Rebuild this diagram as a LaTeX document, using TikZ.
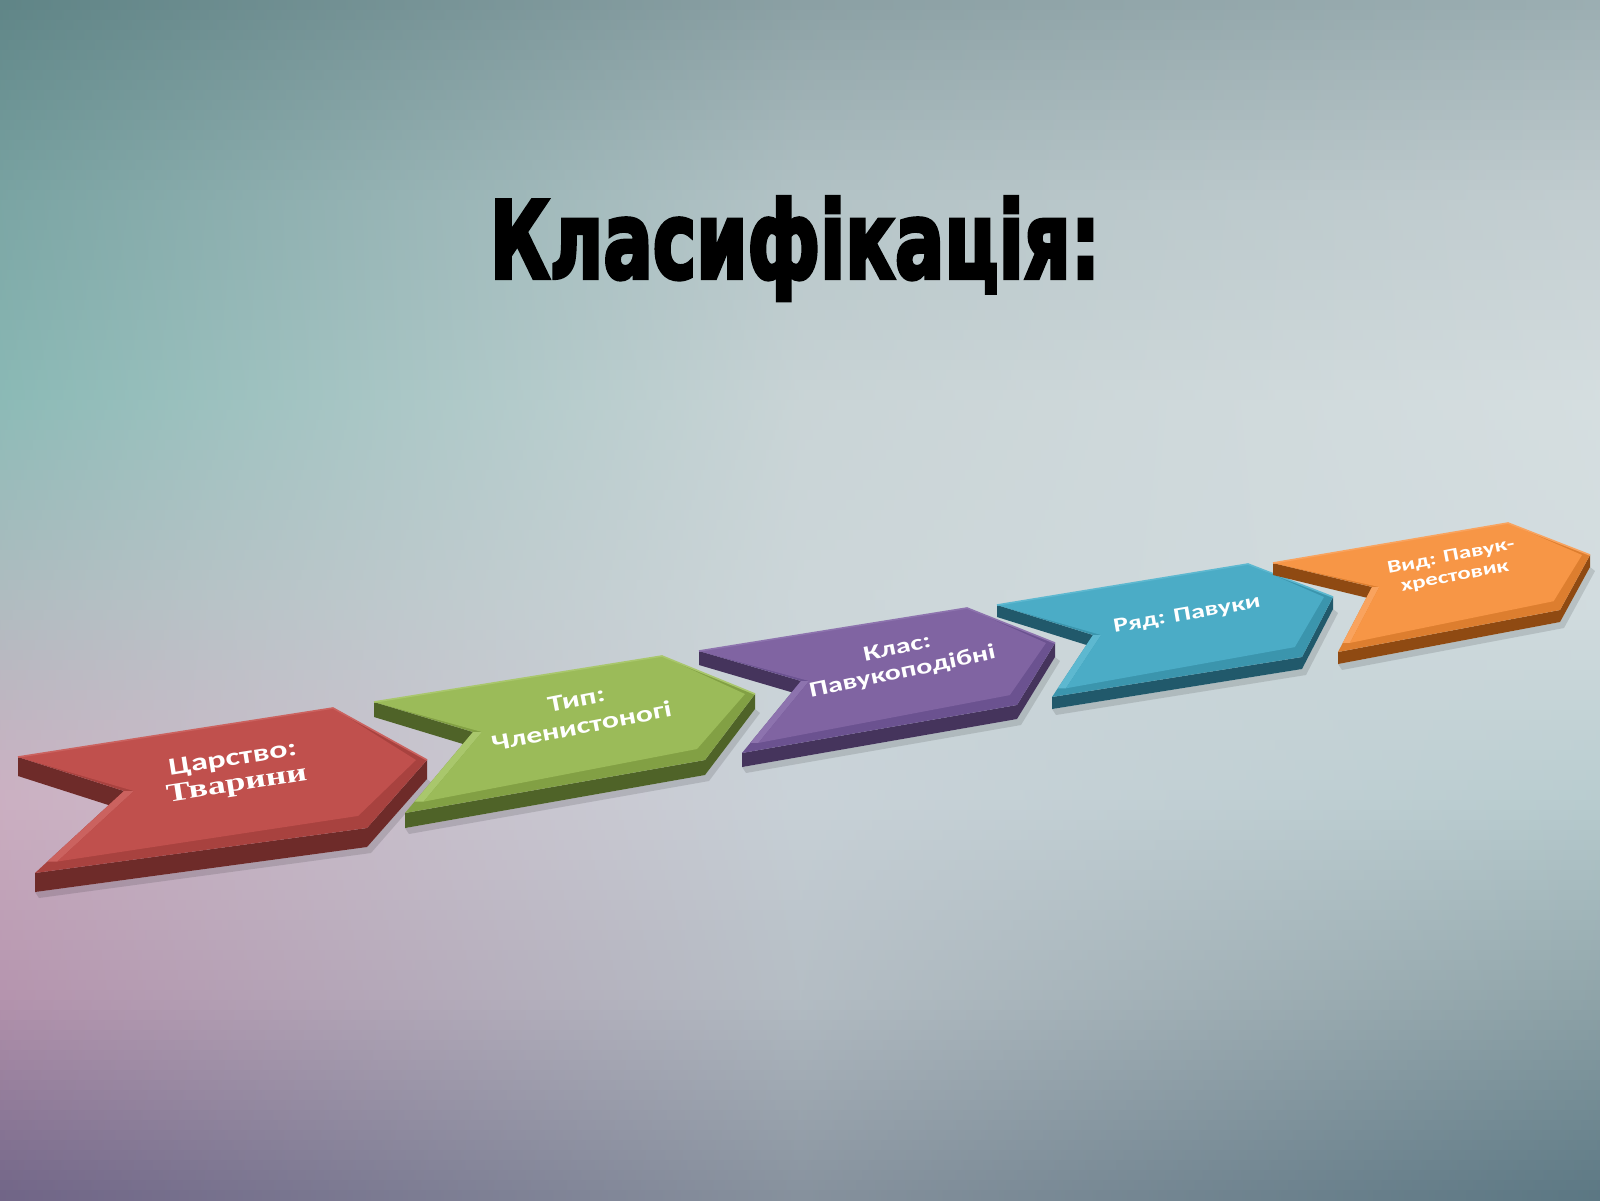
\documentclass[tikz,border=0pt]{standalone}
\usepackage{fontspec}
\usepackage{graphicx}
\setmainfont{Carlito}
\newfontfamily\titlefont[FakeBold=4]{DejaVu Sans}
\newfontfamily\serifb{Liberation Serif}
\usetikzlibrary{calc}

% background colour grid: rows y = 0,200,...,1200 ; columns x = 0,400,...,1600
\definecolor{gr00}{HTML}{5F8486}\definecolor{gr01}{HTML}{7D9597}\definecolor{gr02}{HTML}{8A9FA3}\definecolor{gr03}{HTML}{93A7AB}\definecolor{gr04}{HTML}{9AADB1}
\definecolor{gr10}{HTML}{7AA4A3}\definecolor{gr11}{HTML}{9FB6B8}\definecolor{gr12}{HTML}{B3C3C6}\definecolor{gr13}{HTML}{BFCACD}\definecolor{gr14}{HTML}{C2CDD0}
\definecolor{gr20}{HTML}{8BBAB6}\definecolor{gr21}{HTML}{AFC6C7}\definecolor{gr22}{HTML}{C9D4D6}\definecolor{gr23}{HTML}{D8E2E4}\definecolor{gr24}{HTML}{D5DEE0}
\definecolor{gr30}{HTML}{B0BCC0}\definecolor{gr31}{HTML}{BFCACE}\definecolor{gr32}{HTML}{CCD6D9}\definecolor{gr33}{HTML}{D8E1E4}\definecolor{gr34}{HTML}{D2DCDF}
\definecolor{gr40}{HTML}{CCB0C2}\definecolor{gr41}{HTML}{D0C8D5}\definecolor{gr42}{HTML}{C9D2D8}\definecolor{gr43}{HTML}{C4D6D8}\definecolor{gr44}{HTML}{B8CCCF}
\definecolor{gr50}{HTML}{B493AD}\definecolor{gr51}{HTML}{C0B8C6}\definecolor{gr52}{HTML}{B3BCC3}\definecolor{gr53}{HTML}{A2B4B8}\definecolor{gr54}{HTML}{8EA3A8}
\definecolor{gr60}{HTML}{6F6486}\definecolor{gr61}{HTML}{86849A}\definecolor{gr62}{HTML}{85909C}\definecolor{gr63}{HTML}{6A838D}\definecolor{gr64}{HTML}{5A7682}

\definecolor{redT}{HTML}{C0504D}\definecolor{redB}{HTML}{A8423F}\definecolor{redS}{HTML}{6E2B29}\definecolor{redL}{HTML}{CB625F}
\definecolor{grnT}{HTML}{9BBB59}\definecolor{grnB}{HTML}{82A044}\definecolor{grnS}{HTML}{4F6328}\definecolor{grnL}{HTML}{A9C76C}
\definecolor{purT}{HTML}{8064A2}\definecolor{purB}{HTML}{6B5290}\definecolor{purS}{HTML}{45345C}\definecolor{purL}{HTML}{8D73AE}
\definecolor{tealT}{HTML}{4BACC6}\definecolor{tealB}{HTML}{3B95AD}\definecolor{tealS}{HTML}{21596B}\definecolor{tealL}{HTML}{5DB8D0}
\definecolor{orT}{HTML}{F79646}\definecolor{orB}{HTML}{DD7E2F}\definecolor{orS}{HTML}{8F4A12}\definecolor{orL}{HTML}{F9A35E}

\tikzset{
  lbl/.style={align=center, inner sep=0pt, text=white}
}

% #1 prefix, #2..#7 points A..F, #8 thickness, #9 bevel
\newcommand\chev[9]{%
  \coordinate (#1A) at (#2); \coordinate (#1B) at (#3); \coordinate (#1C) at (#4);
  \coordinate (#1D) at (#5); \coordinate (#1E) at (#6); \coordinate (#1F) at (#7);
  \fill[black, opacity=0.12] ($(#1E)+(4,#8+6)$) -- ($(#1D)+(4,#8+6)$) -- ($(#1C)+(5,#8+4)$) -- ($(#1C)+(0,#8)$) -- ($(#1D)+(0,#8)$) -- ($(#1E)+(0,#8)$) -- cycle;
  \fill[#1S] (#1A) -- (#1F) -- ($(#1F)+(0,#8)$) -- ($(#1A)+(0,#8)$) -- cycle;
  \fill[#1S] (#1E) -- (#1D) -- (#1C) -- ($(#1C)+(0,#8)$) -- ($(#1D)+(0,#8)$) -- ($(#1E)+(0,#8)$) -- cycle;
  \fill[#1B] (#1A) -- (#1B) -- (#1C) -- (#1D) -- (#1E) -- (#1F) -- cycle;
  \fill[#1L] (#1F) -- ($(#1E)!0.14!(#1F)$) -- ($(#1E)!0.14!(#1F)+(0.9*#9,0)$) -- ($(#1F)+(0.9*#9,0)$) -- cycle;
  \fill[#1T] (#1A) -- (#1B) -- ($(#1C)+(-#9,0)$) -- ($(#1D)+(-0.8*#9,-1.1*#9)$) -- ($(#1E)!0.14!(#1F)+(0.9*#9,0)$) -- ($(#1F)+(0.9*#9,0)$) -- cycle;
  \draw[#1L, line width=0.8pt] (#1A) -- (#1B) -- (#1C);
}

\begin{document}
\begin{tikzpicture}[x=0.5pt,y=-0.5pt]
\useasboundingbox (0,0) rectangle (1600,1200);
% background: horizontal strips, colours interpolated in the grid
\foreach \k in {0,...,119} {
  \pgfmathsetmacro\ycen{10*\k+5}
  \pgfmathtruncatemacro\rowA{floor(\ycen/200)}
  \pgfmathtruncatemacro\rowB{\rowA+1}
  \pgfmathsetmacro\mixp{(\ycen-200*\rowA)/2}
  \colorlet{sc0}{gr\rowB0!\mixp!gr\rowA0}
  \colorlet{sc1}{gr\rowB1!\mixp!gr\rowA1}
  \colorlet{sc2}{gr\rowB2!\mixp!gr\rowA2}
  \colorlet{sc3}{gr\rowB3!\mixp!gr\rowA3}
  \colorlet{sc4}{gr\rowB4!\mixp!gr\rowA4}
  \shade[left color=sc0, middle color=sc1, right color=sc2] (0,10*\k) rectangle (801,10*\k+11);
  \shade[left color=sc2, middle color=sc3, right color=sc4] (800,10*\k) rectangle (1600,10*\k+11);
}

% title
\node[anchor=base, inner sep=0pt, text=black] (title) at (795,278) {\resizebox{305pt}{40.5pt}{\titlefont\bfseries Класифікація:}};

% chevrons
\chev{red}{18,757}{333,708}{427,760}{367,828}{35,873}{124,791}{19}{11}
\chev{grn}{374,702}{662,656}{755,694}{705,760}{405,813}{473,732}{15}{10}
\chev{pur}{699,651}{967,608}{1055,643}{1017,705}{742,753}{801,681}{14}{9}
\chev{teal}{997,605}{1248,564}{1333,597}{1302,657}{1052,697}{1093,635}{12}{9}
\chev{or}{1273,563}{1508,523}{1590,555}{1560,610}{1338,652}{1372,587}{12}{8}

% labels
\node[lbl, rotate=9, yscale=0.72, font=\fontsize{17}{18}\selectfont\bfseries] (redt) at (235,773) {Царство:\\{\serifb\fontsize{18}{18}\selectfont Тварини}};
\node[lbl, rotate=11, yscale=0.72, font=\fontsize{16}{19}\selectfont\bfseries] (grnt) at (579,713) {Тип:\\Членистоногі};
\node[lbl, rotate=12, yscale=0.72, font=\fontsize{15}{17}\selectfont\bfseries] (purt) at (900,661) {Клас:\\Павукоподібні};
\node[lbl, rotate=10, yscale=0.72, font=\fontsize{14}{15}\selectfont\bfseries] (tealt) at (1187,615) {Ряд: Павуки};
\node[lbl, rotate=11, yscale=0.72, font=\fontsize{12.5}{14}\selectfont\bfseries] (ort) at (1453,567) {Вид: Павук-\\хрестовик};
\end{tikzpicture}
\end{document}
